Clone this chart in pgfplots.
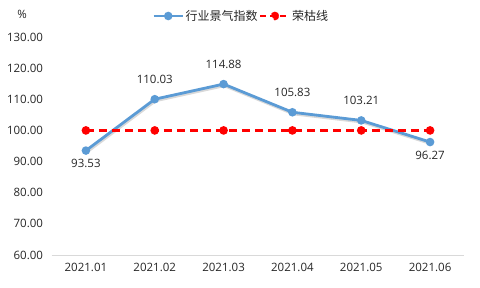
\documentclass[border=0pt]{standalone}
\usepackage{pgfplots}
\pgfplotsset{compat=1.18}
\usepackage{pgfplotstable}
\usepackage{fontspec}
\setmainfont{Open Sans}
\newfontfamily\cjk{Noto Sans CJK SC}
\definecolor{bluel}{HTML}{5B9BD5}
\definecolor{txt}{HTML}{262626}
\pgfplotstableread{
x y sh
0 93.53 -13
1 110.03 20
2 114.88 20
3 105.83 20
4 103.21 20
5 96.27 -13
}\idx
\pgfplotstableread{
x y
0 100
1 100
2 100
3 100
4 100
5 100
}\line
\begin{document}
\begin{tikzpicture}
\useasboundingbox (0,0) rectangle (480pt,288pt);
\begin{axis}[
  at={(51.5pt,33pt)}, anchor=south west,
  scale only axis, width=413pt, height=218pt,
  xmin=-0.5, xmax=5.5, ymin=60, ymax=130,
  xtick={0,...,5},
  xticklabels={2021.01,2021.02,2021.03,2021.04,2021.05,2021.06},
  ytick={60,70,...,130},
  yticklabel style={/pgf/number format/.cd, fixed, fixed zerofill, precision=2, /tikz/.cd, xshift=-5pt},
  /pgf/number format/assume math mode=true,
  tick label style={font=\fontsize{11.5}{13}\selectfont, text=txt},
  xticklabel style={yshift=-5pt},
  major tick length=0pt,
  axis line style={draw=none},
  axis x line*=bottom, axis y line*=left,
  clip=false,
  legend style={at={(0.5,1.0)}, anchor=center, yshift=21pt, xshift=-17pt, draw=none, fill=none,
    font=\cjk\fontsize{12}{13}\selectfont, text=txt, column sep=0pt, inner sep=0pt,
    nodes={inner xsep=1.5pt, inner ysep=1pt}},
  legend columns=2,
  legend cell align=left,
]
\node[font=\fontsize{11.5}{13}\selectfont, text=txt] at (rel axis cs:-0.0714,1.105) {\%};
\draw[color=black!15, line width=0.8pt] (axis cs:-0.5,60) -- (axis cs:5.5,60);
\addplot[forget plot, black!25, opacity=0.6, line width=2.8pt, shift={(0.8pt,-1.6pt)}] table[x=x,y=y] {\idx};
\addplot[bluel, line width=2.8pt, mark=*, mark size=2.8pt, mark options={fill=bluel, draw=none},
  legend image code/.code={\draw[bluel, line width=2.8pt] (0pt,0pt) -- (29pt,0pt); \fill[bluel] (14.5pt,0pt) circle (2.8pt);},
  nodes near coords,
  point meta=explicit,
  visualization depends on={\thisrow{sh} \as \sh},
  nodes near coords style={font=\fontsize{11.5}{13}\selectfont, text=txt, /pgf/number format/.cd, fixed, fixed zerofill, precision=2, /tikz/.cd, anchor=center, yshift={\sh*1pt}},
] table[x=x,y=y,meta=y] {\idx};
\addlegendentry{行业景气指数}
\addplot[red, line width=2.5pt, dash pattern=on 8pt off 5pt, mark=*, mark size=3pt, mark options={solid, fill=red, draw=none},
  legend image code/.code={\draw[red, line width=2.5pt, dash pattern=on 6pt off 4pt] (0pt,0pt) -- (29pt,0pt); \fill[red] (14.5pt,0pt) circle (3pt);},
] table[x=x,y=y] {\line};
\addlegendentry{荣枯线}
\end{axis}
\end{tikzpicture}
\end{document}
